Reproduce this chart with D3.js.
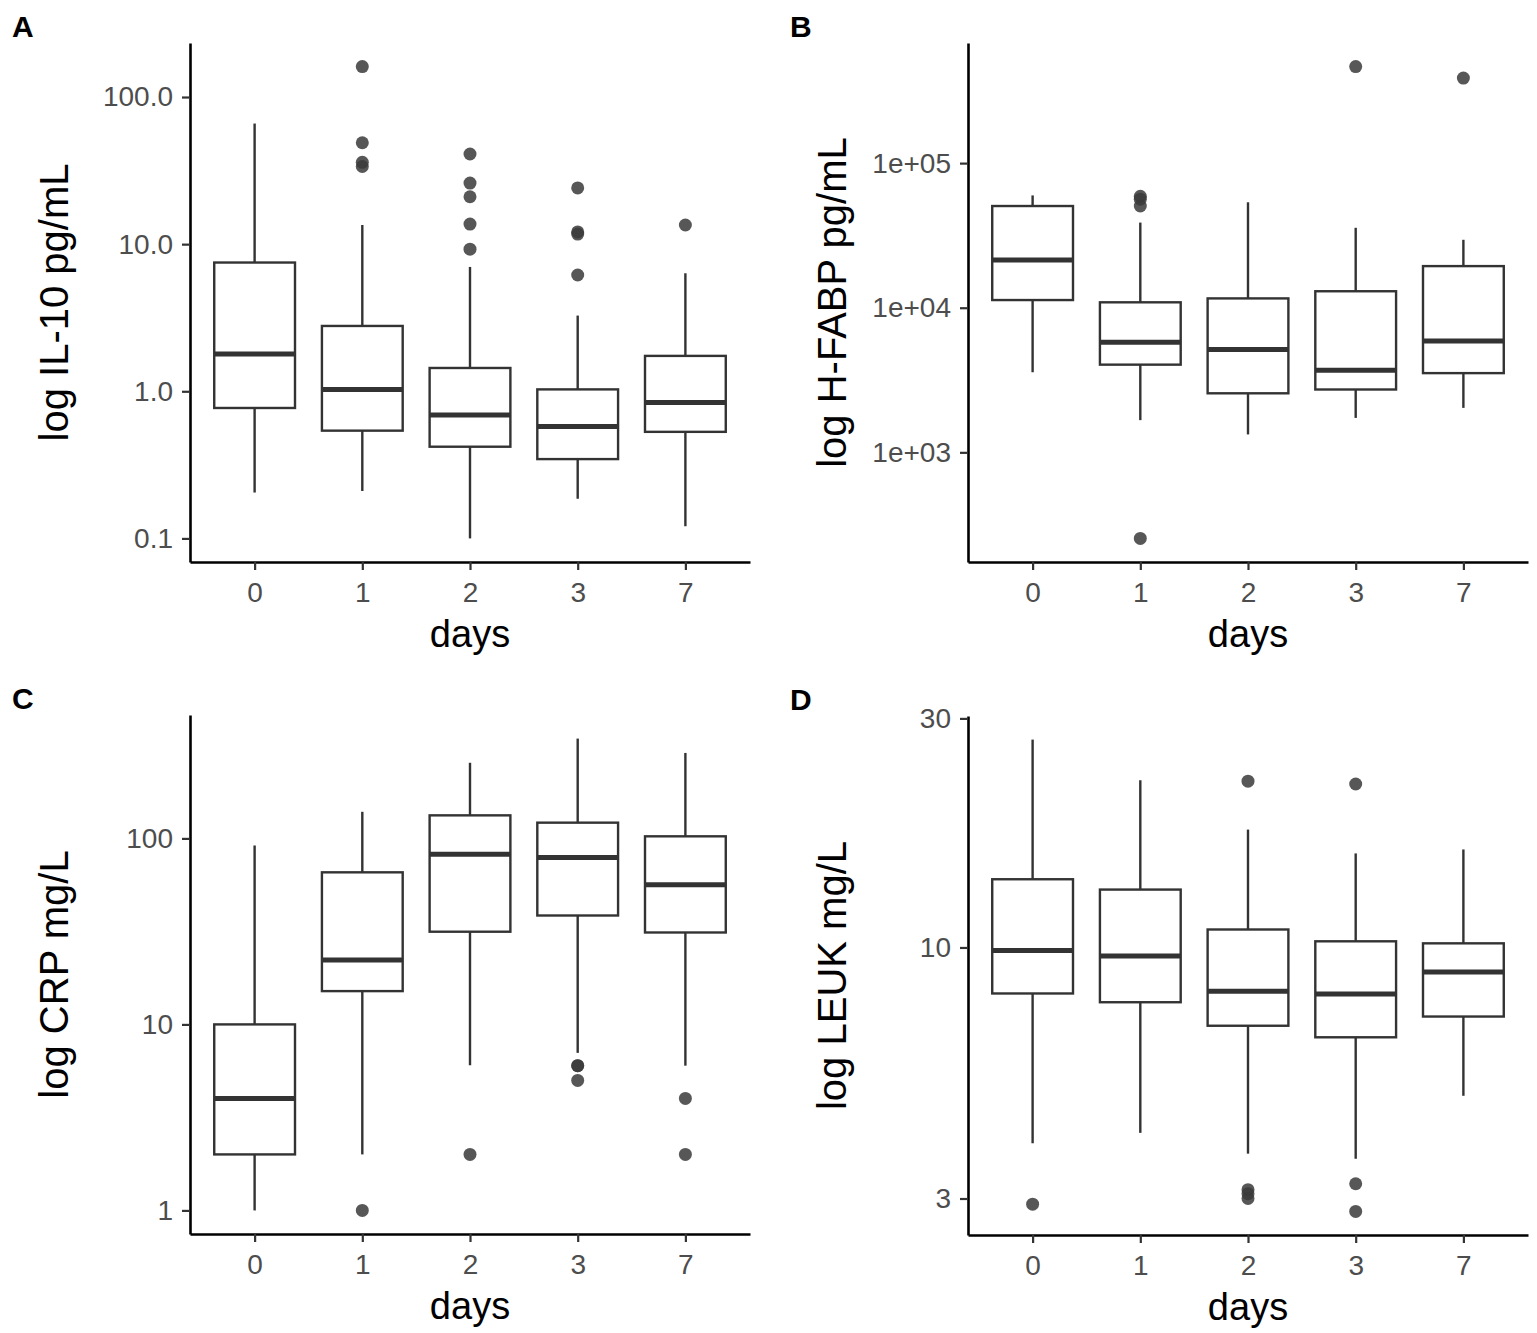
<!DOCTYPE html>
<html>
<head>
<meta charset="utf-8">
<script src="https://cdn.jsdelivr.net/npm/d3@7"></script>
<style>
  body { margin: 0; background: #fff; }
  svg text { font-family: "Liberation Sans", Arial, sans-serif; }
</style>
</head>
<body>
<svg id="chart" width="1537" height="1333"></svg>
<script>
var days = ["0", "1", "2", "3", "7"];

// each row: [lower whisker, Q1, median, Q3, upper whisker]
var il10Stats = [
  [0.205, 0.77, 1.79, 7.5, 66],
  [0.21, 0.54, 1.03, 2.78, 13.5],
  [0.1, 0.42, 0.69, 1.44, 7.0],
  [0.186, 0.346, 0.577, 1.03, 3.27],
  [0.121, 0.53, 0.84, 1.74, 6.34]
];
var il10Outliers = [[], [161, 48.9, 36, 33.7], [41, 26, 21, 13.7, 9.25], [24.1, 12.1, 11.7, 6.17], [13.5]];
var il10Ticks = [0.1, 1, 10, 100];

var hfabpStats = [
  [3580, 11300, 21400, 50500, 59800],
  [1670, 4040, 5780, 10900, 38800],
  [1330, 2560, 5150, 11600, 53600],
  [1730, 2720, 3690, 13000, 35700],
  [2030, 3530, 5890, 19400, 29500]
];
var hfabpOutliers = [[], [59000, 56300, 50500, 254], [], [465000], [387000]];
var hfabpTicks = [1e3, 1e4, 1e5];

var crpStats = [
  [1, 2, 4, 10, 91.6],
  [2, 15.1, 22.2, 65.7, 139],
  [6.03, 31.5, 82.3, 133, 255],
  [7.03, 38.5, 79, 121.5, 344],
  [6, 31.2, 56.3, 102.6, 288]
];
var crpOutliers = [[], [1], [2], [6, 6, 5], [4, 2]];
var crpTicks = [1, 10, 100];

var leukStats = [
  [3.91, 8.02, 9.86, 13.87, 27.1],
  [4.11, 7.69, 9.6, 13.2, 22.3],
  [3.72, 6.87, 8.11, 10.9, 17.6],
  [3.63, 6.5, 8.0, 10.3, 15.7],
  [4.91, 7.18, 8.89, 10.2, 16.0]
];
var leukOutliers = [[2.92], [], [22.2, 3.13, 3.07, 3.0], [21.9, 3.22, 2.82], []];
var leukTicks = [3, 10, 30];

var svg = d3.select("#chart");

function drawPanel(opt) {
  var g = svg.append("g");

  // ggplot style: 5% expansion of the log range
  var all = [];
  opt.stats.forEach(function(s) { all = all.concat(s); });
  opt.outliers.forEach(function(o) { all = all.concat(o); });
  var lo = Math.log10(d3.min(all)), hi = Math.log10(d3.max(all));
  var pad = (hi - lo) * 0.05;

  var y = d3.scaleLog()
    .domain([Math.pow(10, lo - pad), Math.pow(10, hi + pad)])
    .range([opt.y1, opt.y0]);

  var x = d3.scalePoint()
    .domain(days)
    .range([opt.x0, opt.x1])
    .padding(0.6);

  var bw = x.step() * 0.75;

  // boxes
  var box = g.selectAll(".box")
    .data(opt.stats)
    .enter().append("g")
    .attr("class", "box");

  box.append("line")
    .attr("x1", function(d, i) { return x(days[i]); })
    .attr("x2", function(d, i) { return x(days[i]); })
    .attr("y1", function(d) { return y(d[0]); })
    .attr("y2", function(d) { return y(d[1]); })
    .attr("stroke", "#333").attr("stroke-width", 2.4);

  box.append("line")
    .attr("x1", function(d, i) { return x(days[i]); })
    .attr("x2", function(d, i) { return x(days[i]); })
    .attr("y1", function(d) { return y(d[3]); })
    .attr("y2", function(d) { return y(d[4]); })
    .attr("stroke", "#333").attr("stroke-width", 2.4);

  box.append("rect")
    .attr("x", function(d, i) { return x(days[i]) - bw / 2; })
    .attr("width", bw)
    .attr("y", function(d) { return y(d[3]); })
    .attr("height", function(d) { return y(d[1]) - y(d[3]); })
    .attr("fill", "#fff")
    .attr("stroke", "#333").attr("stroke-width", 2.4);

  box.append("line")
    .attr("x1", function(d, i) { return x(days[i]) - bw / 2; })
    .attr("x2", function(d, i) { return x(days[i]) + bw / 2; })
    .attr("y1", function(d) { return y(d[2]); })
    .attr("y2", function(d) { return y(d[2]); })
    .attr("stroke", "#333").attr("stroke-width", 5);

  // outliers
  opt.outliers.forEach(function(list, i) {
    g.selectAll(null)
      .data(list)
      .enter().append("circle")
      .attr("cx", x(days[i]))
      .attr("cy", function(d) { return y(d); })
      .attr("r", 6.5)
      .attr("fill", "#3a3a3a")
      .attr("fill-opacity", 0.85);
  });

  // axes
  var yAxis = g.append("g")
    .attr("transform", "translate(" + opt.x0 + ",0)")
    .call(d3.axisLeft(y).tickValues(opt.ticks).tickFormat(opt.fmt).tickSize(8).tickSizeOuter(0).tickPadding(9));

  var xAxis = g.append("g")
    .attr("transform", "translate(0," + opt.y1 + ")")
    .call(d3.axisBottom(x).tickSize(8).tickSizeOuter(0).tickPadding(12));

  [yAxis, xAxis].forEach(function(a) {
    a.select(".domain").attr("stroke", "#000").attr("stroke-width", 2.6);
    a.selectAll(".tick line").attr("stroke", "#333").attr("stroke-width", 2.2);
    a.selectAll(".tick text").attr("fill", "#4d4d4d").style("font-size", "28px");
  });
  xAxis.selectAll(".tick text").attr("dy", "0.71em");

  g.append("text")
    .attr("transform", "translate(" + (opt.x0 - 122) + "," + ((opt.y0 + opt.y1) / 2) + ") rotate(-90)")
    .attr("text-anchor", "middle")
    .style("font-size", "40px")
    .text(opt.title);

  g.append("text")
    .attr("x", (opt.x0 + opt.x1) / 2)
    .attr("y", opt.y1 + 85)
    .attr("text-anchor", "middle")
    .style("font-size", "38px")
    .text("days");

  g.append("text")
    .attr("x", opt.letterX)
    .attr("y", opt.y0 - 6)
    .style("font-size", "30px")
    .style("font-weight", "bold")
    .text(opt.letter);
}

drawPanel({
  letter: "A", letterX: 12, title: "log IL-10 pg/mL",
  x0: 190, x1: 750, y0: 43, y1: 562,
  stats: il10Stats, outliers: il10Outliers, ticks: il10Ticks,
  fmt: d3.format(".1f")
});

drawPanel({
  letter: "B", letterX: 790, title: "log H-FABP pg/mL",
  x0: 968, x1: 1528, y0: 43, y1: 562,
  stats: hfabpStats, outliers: hfabpOutliers, ticks: hfabpTicks,
  fmt: function(d) { return "1e+0" + Math.round(Math.log10(d)); }
});

drawPanel({
  letter: "C", letterX: 12, title: "log CRP mg/L",
  x0: 190, x1: 750, y0: 715, y1: 1234,
  stats: crpStats, outliers: crpOutliers, ticks: crpTicks,
  fmt: d3.format("d")
});

drawPanel({
  letter: "D", letterX: 790, title: "log LEUK mg/L",
  x0: 968, x1: 1528, y0: 716, y1: 1235,
  stats: leukStats, outliers: leukOutliers, ticks: leukTicks,
  fmt: d3.format("d")
});
</script>
</body>
</html>
